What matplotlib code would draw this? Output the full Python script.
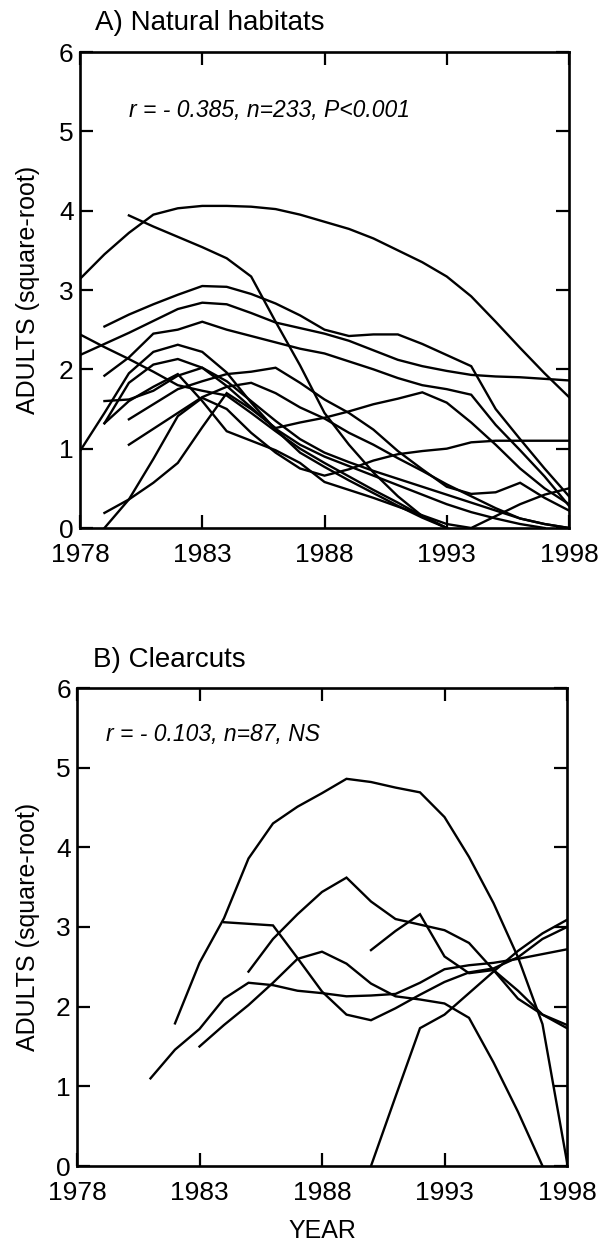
import numpy as np
import matplotlib
matplotlib.use('Agg')
import matplotlib.pyplot as plt

plt.rcParams['font.family'] = ['Liberation Sans', 'DejaVu Sans']

# ---------------- data ----------------
years = list(range(1978, 1999))
N = None

# A) Natural habitats (square-root of adults), one list per site, 1978..1998
nat_1 = [3.14, 3.45, 3.72, 3.95, 4.03, 4.06, 4.06, 4.05, 4.02, 3.95, 3.86, 3.77, 3.65, 3.5, 3.35, 3.17, 2.92, 2.6, 2.27, 1.95, 1.65]
nat_2 = [N, N, 3.94, 3.8, 3.67, 3.54, 3.4, 3.17, 2.6, 2.05, 1.45, 1.05, 0.7, 0.4, 0.15, 0.0, N, N, N, N, N]
nat_3 = [N, 2.54, 2.69, 2.82, 2.94, 3.05, 3.04, 2.95, 2.83, 2.68, 2.5, 2.42, 2.44, 2.44, 2.32, 2.18, 2.04, 1.5, 1.12, 0.75, 0.4]
nat_4 = [2.18, 2.32, 2.46, 2.61, 2.76, 2.84, 2.82, 2.71, 2.59, 2.52, 2.45, 2.36, 2.24, 2.12, 2.04, 1.98, 1.93, 1.91, 1.9, 1.88, 1.86]
nat_5 = [N, 1.92, 2.15, 2.45, 2.5, 2.6, 2.5, 2.42, 2.34, 2.26, 2.2, 2.1, 2.0, 1.89, 1.8, 1.75, 1.68, 1.3, 0.98, 0.65, 0.28]
nat_6 = [2.44, 2.28, 2.13, 1.97, 1.8, 1.73, 1.67, 1.45, 1.22, 1.0, 0.82, 0.65, 0.48, 0.32, 0.15, 0.0, N, N, N, N, N]
nat_7 = [0.97, 1.45, 1.95, 2.22, 2.31, 2.22, 1.96, 1.58, 1.24, 0.95, 0.77, 0.6, 0.44, 0.28, 0.13, 0.0, N, N, N, N, N]
nat_8 = [N, 1.32, 1.83, 2.06, 2.13, 2.02, 1.79, 1.52, 1.25, 1.05, 0.9, 0.78, 0.66, 0.54, 0.42, 0.3, 0.2, 0.12, 0.05, 0.0, N]
nat_9 = [N, 1.32, 1.6, 1.78, 1.94, 1.6, 1.22, 1.1, 0.98, 0.82, 0.58, 0.48, 0.38, 0.27, 0.16, 0.05, 0.0, 0.15, 0.3, 0.42, 0.5]
nat_10 = [N, 1.6, 1.62, 1.73, 1.92, 2.02, 1.85, 1.6, 1.35, 1.12, 0.95, 0.83, 0.72, 0.62, 0.52, 0.42, 0.32, 0.22, 0.12, 0.05, 0.0]
nat_11 = [N, N, 1.37, 1.56, 1.75, 1.85, 1.94, 1.97, 2.02, 1.83, 1.62, 1.45, 1.24, 0.97, 0.74, 0.52, 0.43, 0.45, 0.57, 0.38, 0.22]
nat_12 = [N, N, 1.05, 1.25, 1.45, 1.65, 1.78, 1.83, 1.7, 1.52, 1.38, 1.2, 1.05, 0.88, 0.72, 0.55, 0.4, 0.25, 0.12, 0.05, 0.0]
nat_13 = [N, 0.19, 0.36, 0.57, 0.82, 1.27, 1.7, 1.5, 1.26, 1.33, 1.39, 1.47, 1.56, 1.63, 1.71, 1.58, 1.33, 1.05, 0.75, 0.5, 0.3]
nat_14 = [N, 0.0, 0.36, 0.87, 1.41, 1.64, 1.5, 1.2, 0.95, 0.75, 0.66, 0.74, 0.85, 0.93, 0.97, 1.0, 1.08, 1.1, 1.1, 1.1, 1.1]
natural_sites = [nat_1, nat_2, nat_3, nat_4, nat_5, nat_6, nat_7, nat_8,
                 nat_9, nat_10, nat_11, nat_12, nat_13, nat_14]

# B) Clearcuts, 1978..1998
cc_1 = [N, N, N, N, 1.79, 2.55, 3.11, 3.86, 4.3, 4.51, 4.68, 4.86, 4.82, 4.75, 4.69, 4.38, 3.88, 3.3, 2.62, 1.78, 0.05]
cc_2 = [N] * 12 + [0.0, 0.87, 1.73, 1.9, 2.17, 2.44, 2.7, 2.92, 3.09]
cc_3 = [N] * 12 + [2.71, 2.95, 3.16, 2.63, 2.42, 2.46, 2.2, 1.9, 1.73]
cc_4 = [N] * 6 + [3.06, 3.04, 3.02, 2.61, 2.19, 1.9, 1.83, 1.98, 2.15, 2.31, 2.43, 2.48, 2.62, 2.85, 3.0]
cc_5 = [N] * 7 + [2.44, 2.85, 3.16, 3.44, 3.62, 3.32, 3.1, 3.03, 2.96, 2.8, 2.46, 2.1, 1.9, 1.77]
cc_6 = [N] * 3 + [1.1, 1.46, 1.72, 2.1, 2.3, 2.27, 2.2, 2.17, 2.13, 2.14, 2.16, 2.3, 2.47, 2.52, 2.55, 2.6, 2.66, 2.72]
cc_7 = [N] * 5 + [1.5, 1.77, 2.02, 2.3, 2.6, 2.69, 2.54, 2.29, 2.13, 2.09, 2.04, 1.86, 1.3, 0.68, 0.0, N]
clearcut_sites = [cc_1, cc_2, cc_3, cc_4, cc_5, cc_6, cc_7]

x_ticks = [1978, 1983, 1988, 1993, 1998]
y_ticks = [0, 1, 2, 3, 4, 5, 6]
titles = ['A) Natural habitats', 'B) Clearcuts']
stats = ['r = - 0.385, n=233, P<0.001', 'r = - 0.103, n=87, NS']
ylabel = 'ADULTS (square-root)'
xlabel = 'YEAR'

# ---------------- figure ----------------
W, H = 601, 1247
fig = plt.figure(figsize=(W / 100, H / 100), dpi=100)


def px_rect(l, t, r, b):
    return [l / W, 1 - b / H, (r - l) / W, (b - t) / H]


axA = fig.add_axes(px_rect(80, 52, 569, 528))
axB = fig.add_axes(px_rect(77, 688, 567, 1166))


def style(ax):
    ax.set_xlim(1978, 1998)
    ax.set_ylim(0, 6)
    ax.set_xticks(x_ticks)
    ax.set_yticks(y_ticks)
    ax.set_xticklabels([str(t) for t in x_ticks], fontsize=19)
    ax.set_yticklabels([str(t) for t in y_ticks], fontsize=19)
    ax.tick_params(direction='in', length=9.5, width=1.6, top=True, right=True,
                   colors='black')
    ax.tick_params(axis='x', pad=11)
    ax.tick_params(axis='y', pad=4.5)
    for s in ax.spines.values():
        s.set_linewidth(1.9)
    ax.set_ylabel(ylabel, fontsize=18)


def draw(ax, sites):
    for vals in sites:
        arr = np.array([np.nan if v is None else v for v in vals], dtype=float)
        ax.plot(years, arr, color='black', lw=1.7, solid_joinstyle='miter')


draw(axA, natural_sites)
draw(axB, clearcut_sites)
style(axA)
style(axB)
axA.yaxis.set_label_coords(-(80 - 40) / 489, 0.5)
axB.yaxis.set_label_coords(-(77 - 40) / 490, 0.5)

# titles
fig.text(95 / W, 1 - 30 / H, titles[0], fontsize=20, ha='left', va='baseline')
fig.text(93 / W, 1 - 667 / H, titles[1], fontsize=20, ha='left', va='baseline')

# statistics
fig.text(129 / W, 1 - 117 / H, stats[0], fontsize=16.5, style='italic', ha='left', va='baseline')
fig.text(106 / W, 1 - 741 / H, stats[1], fontsize=16.5, style='italic', ha='left', va='baseline')

# x label
fig.text(322 / W, 1 - 1238 / H, xlabel, fontsize=18, ha='center', va='baseline')

fig.savefig('out.png', dpi=100, facecolor='white')
